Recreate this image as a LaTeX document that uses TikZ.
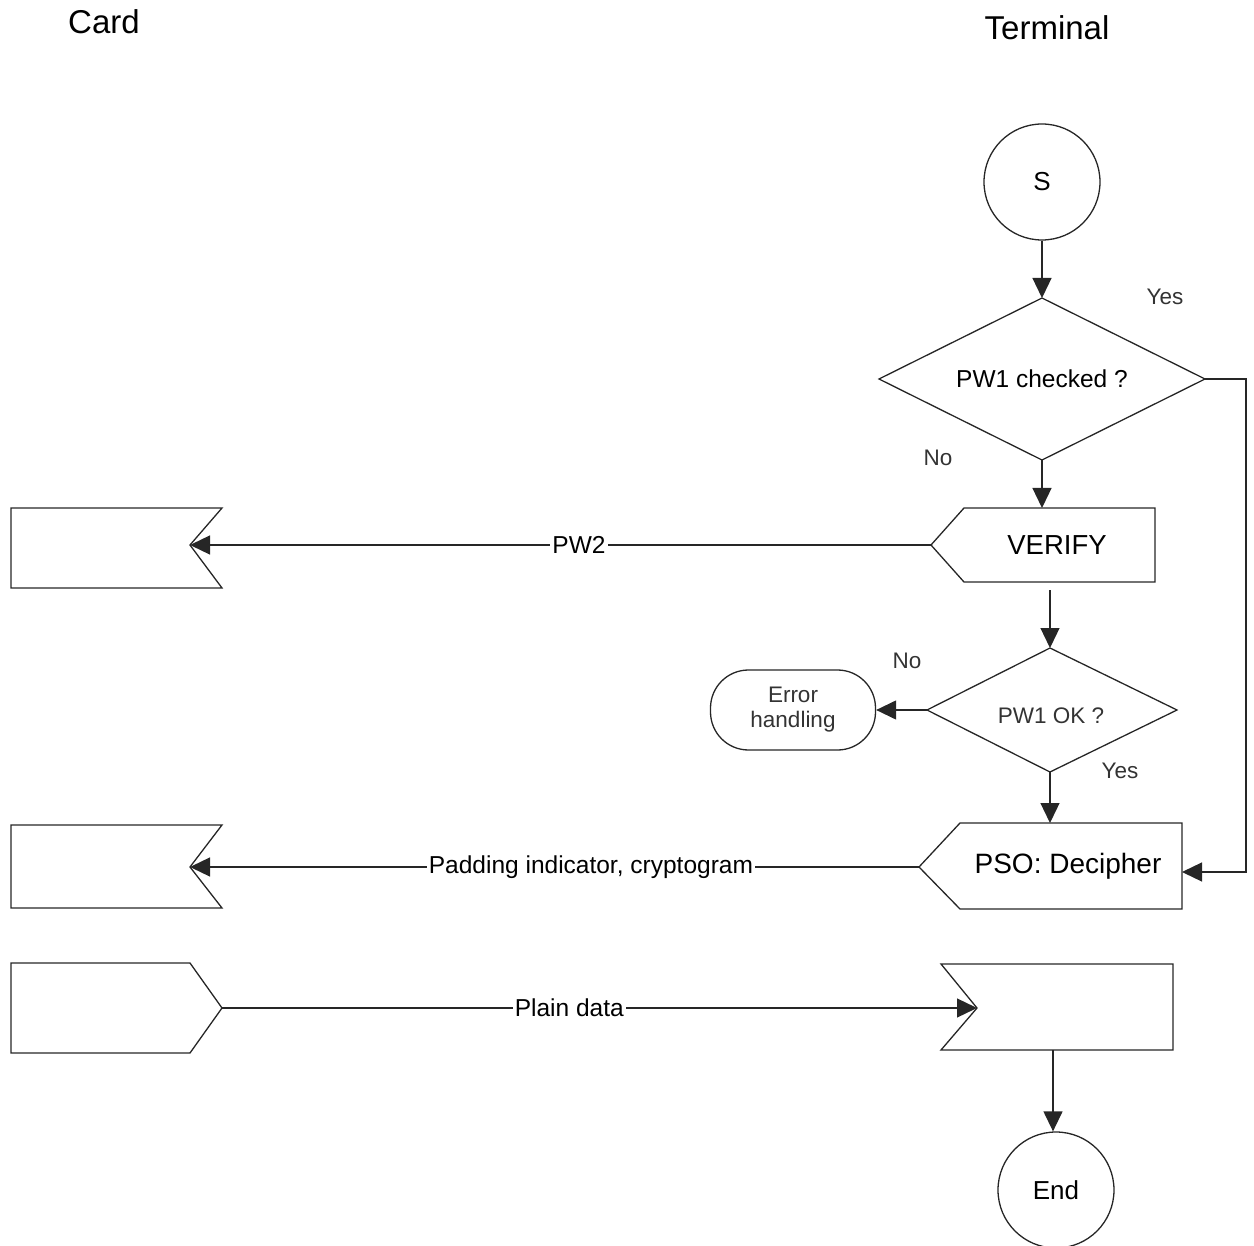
\documentclass[tikz,border=0pt]{standalone}
\usepackage{fontspec}
\setmainfont{Liberation Sans}
\usetikzlibrary{arrows.meta}
\begin{document}
\begin{tikzpicture}[x=1pt,y=-1pt,
  line/.style={line width=1.3pt, draw=black!85, line join=miter},
  arr/.style={line, -{Triangle[length=20pt,width=19pt]}},
  big/.style={font=\fontsize{27.5}{32}\selectfont},
  head/.style={font=\fontsize{33}{39}\selectfont},
  mid/.style={font=\fontsize{24.5}{29}\selectfont},
  small/.style={font=\fontsize{22.5}{27}\selectfont, text=black!80},
  errtxt/.style={font=\fontsize{22.5}{27}\selectfont, text=black!80, align=center},
  lbl/.style={mid, fill=white, inner sep=2pt},
  term/.style={circle, line, minimum size=116pt, inner sep=0pt, font=\fontsize{26}{31}\selectfont}]
\useasboundingbox (0,0) rectangle (1254,1246);

% headers
\node[head] (hcard) at (104,22) {Card};
\node[head] (hterm) at (1047,28) {Terminal};

% start
\node[term, draw] (s) at (1042,182) {S};

% diamond 1
\coordinate (d1T) at (1042,298);
\coordinate (d1L) at (879,379);
\coordinate (d1R) at (1205,379);
\coordinate (d1B) at (1042,460);
\draw[line] (d1T) -- (d1R) -- (d1B) -- (d1L) -- cycle;
\node[mid] (d1) at (1042,379) {PW1 checked ?};
\node[small] (yes1) at (1165,297) {Yes};
\node[small] (no1) at (938,458) {No};

% VERIFY
\coordinate (vL) at (931,545);
\coordinate (vTL) at (964,508);
\coordinate (vT) at (1042,508);
\coordinate (vTR) at (1155,508);
\coordinate (vBR) at (1155,582);
\coordinate (vBL) at (964,582);
\coordinate (vOut) at (1050,590);
\draw[line] (vL) -- (vTL) -- (vTR) -- (vBR) -- (vBL) -- cycle;
\node[big] (verify) at (1057,545) {VERIFY};

% card box 1
\coordinate (c1n) at (190,545);
\draw[line] (222,508) -- (11,508) -- (11,588) -- (222,588) -- (c1n) -- cycle;

% diamond 2
\coordinate (d2T) at (1050,648);
\coordinate (d2L) at (927,710);
\coordinate (d2R) at (1177,710);
\coordinate (d2B) at (1050,772);
\draw[line] (d2T) -- (d2R) -- (d2B) -- (d2L) -- cycle;
\node[errtxt] (d2) at (1051,716) {PW1 OK ?};
\node[small] (no2) at (907,661) {No};
\node[small] (yes2) at (1120,771) {Yes};

% error handling
\node[line, draw, rounded corners=38pt, minimum width=165pt, minimum height=80pt, errtxt, inner sep=0pt] (err) at (793,710) {Error\\[-2pt]handling};

% PSO
\coordinate (pL) at (919,867);
\coordinate (pTL) at (960,823);
\coordinate (pT) at (1050,823);
\coordinate (pTR) at (1182,823);
\coordinate (pBR) at (1182,909);
\coordinate (pBL) at (960,909);
\coordinate (pR) at (1182,872);
\draw[line] (pL) -- (pTL) -- (pTR) -- (pBR) -- (pBL) -- cycle;
\node[font=\fontsize{28}{33}\selectfont] (pso) at (1068,866) {PSO: Decipher};

% card box 2
\coordinate (c2n) at (190,867);
\draw[line] (222,825) -- (11,825) -- (11,908) -- (222,908) -- (c2n) -- cycle;

% card box 3
\coordinate (c3p) at (222,1008);
\draw[line] (11,963) -- (190,963) -- (c3p) -- (190,1053) -- (11,1053) -- cycle;

% terminal box 3
\coordinate (t3n) at (977,1008);
\coordinate (t3B) at (1053,1050);
\draw[line] (941,964) -- (1173,964) -- (1173,1050) -- (941,1050) -- (t3n) -- cycle;

% end
\node[term, draw] (endc) at (1056,1190) {End};

% right exit
\coordinate (r1) at (1246,379);
\coordinate (r2) at (1246,872);

% connectors
\draw[arr] (s.south) -- (d1T);
\draw[arr] (d1B) -- (vT);
\draw[arr] (d1R) -- (r1) -- (r2) -- (pR);
\draw[arr] (vL) -- node[lbl, pos=0.475] (pw2) {PW2} (c1n);
\draw[arr] (vOut) -- (d2T);
\draw[arr] (d2L) -- (err.east);
\draw[arr] (d2B) -- (pT);
\draw[arr] (pL) -- node[lbl, pos=0.45] (pad) {Padding indicator, cryptogram} (c2n);
\draw[arr] (c3p) -- node[lbl, pos=0.46] (plain) {Plain data} (t3n);
\draw[arr] (t3B) -- (t3B |- endc.north);
\end{tikzpicture}
\end{document}
